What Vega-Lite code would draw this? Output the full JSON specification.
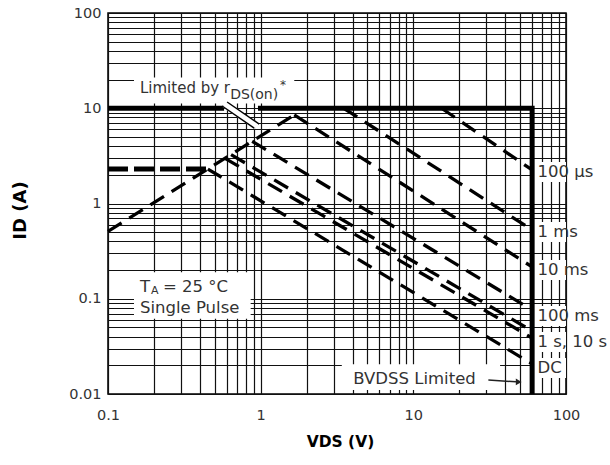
{
  "$schema": "https://vega.github.io/schema/vega-lite/v6.json",
  "width": 458,
  "height": 381,
  "autosize": "none",
  "padding": {"left": 108, "top": 13, "right": 44, "bottom": 71},
  "background": "white",
  "config": {"view": {"stroke": "#000", "strokeWidth": 1.5}, "font": "DejaVu Sans"},
  "datasets": {
    "boxes": [
      {"V": 0.148, "V2": 1.66, "I": 11.2, "I2": 21},
      {"V": 0.148, "V2": 0.86, "I": 0.0615, "I2": 0.19},
      {"V": 3.4, "V2": 37, "I": 0.011, "I2": 0.0205},
      {"V": 61.5, "V2": 100, "I": 1.68, "I2": 2.73},
      {"V": 61.5, "V2": 100, "I": 0.394, "I2": 0.639},
      {"V": 61.5, "V2": 100, "I": 0.157, "I2": 0.255},
      {"V": 61.5, "V2": 100, "I": 0.0518, "I2": 0.0839},
      {"V": 61.5, "V2": 100, "I": 0.0276, "I2": 0.0448},
      {"V": 61.5, "V2": 100, "I": 0.0147, "I2": 0.0239}
    ],
    "curves": [
      {"s": "rDS(on)", "o": 0, "V": 0.1, "I": 0.51},
      {"s": "rDS(on)", "o": 1, "V": 1.66, "I": 8.5},
      {"s": "100 µs", "o": 0, "V": 15.3, "I": 10},
      {"s": "100 µs", "o": 1, "V": 60, "I": 2.25},
      {"s": "1 ms", "o": 0, "V": 3.5, "I": 10},
      {"s": "1 ms", "o": 1, "V": 60, "I": 0.527},
      {"s": "10 ms", "o": 0, "V": 1.66, "I": 8.5},
      {"s": "10 ms", "o": 1, "V": 60, "I": 0.216},
      {"s": "100 ms", "o": 0, "V": 0.88, "I": 4.5},
      {"s": "100 ms", "o": 1, "V": 60, "I": 0.0762},
      {"s": "1 s", "o": 0, "V": 0.64, "I": 3.26},
      {"s": "1 s", "o": 1, "V": 60, "I": 0.0459},
      {"s": "10 s", "o": 0, "V": 0.584, "I": 2.98},
      {"s": "10 s", "o": 1, "V": 60, "I": 0.0387},
      {"s": "DC", "o": 0, "V": 0.451, "I": 2.3},
      {"s": "DC", "o": 1, "V": 60, "I": 0.0207}
    ],
    "idline": [
      {"o": 0, "V": 0.1, "I": 2.3},
      {"o": 1, "V": 0.451, "I": 2.3}
    ],
    "limit": [
      {"s": "a", "o": 0, "V": 0.1, "I": 10},
      {"s": "a", "o": 1, "V": 0.576, "I": 10},
      {"s": "b", "o": 0, "V": 0.96, "I": 10},
      {"s": "b", "o": 1, "V": 60, "I": 10},
      {"s": "b", "o": 2, "V": 60, "I": 0.01}
    ],
    "band": [
      {"o": 0, "V": 0.58, "I": 11.08},
      {"o": 1, "V": 0.94, "I": 6.5}
    ],
    "slash": [
      {"s": "A", "o": 0, "V": 0.603, "I": 11.63},
      {"s": "A", "o": 1, "V": 0.978, "I": 6.83},
      {"s": "B", "o": 0, "V": 0.559, "I": 10.56},
      {"s": "B", "o": 1, "V": 0.907, "I": 6.2}
    ],
    "arrow": [
      {"o": 0, "V": 31, "I": 0.014},
      {"o": 1, "V": 47, "I": 0.01345}
    ],
    "head": [
      {"V": 49, "I": 0.0134}
    ],
    "rlabels": [
      {"t": "100 µs", "V": 65, "I": 2.14},
      {"t": "1 ms", "V": 65, "I": 0.502},
      {"t": "10 ms", "V": 65, "I": 0.2},
      {"t": "100 ms", "V": 65, "I": 0.0659},
      {"t": "1 s, 10 s", "V": 65, "I": 0.0351},
      {"t": "DC", "V": 65, "I": 0.01875}
    ],
    "notes": [
      {"t": "T", "V": 0.162, "I": 0.1323},
      {"t": "= 25 °C", "V": 0.2294, "I": 0.1323},
      {"t": "Single Pulse", "V": 0.162, "I": 0.08},
      {"t": "BVDSS Limited", "V": 4.04, "I": 0.0145}
    ],
    "limited": [
      {"t": "Limited by r", "V": 0.162, "I": 16.3}
    ],
    "subs": [
      {"t": "DS(on)", "V": 0.631, "I": 13.8}
    ],
    "subA": [
      {"t": "A", "V": 0.191, "I": 0.1206}
    ],
    "star": [
      {"t": "*", "V": 1.34, "I": 17.5}
    ]
  },
  "encoding": {
    "x": {
      "field": "V",
      "type": "quantitative",
      "scale": {"type": "log", "domain": [0.1, 100], "nice": false},
      "axis": {
        "title": "VDS (V)",
        "values": [0.1, 0.2, 0.3, 0.4, 0.5, 0.6, 0.7, 0.8, 0.9, 1, 2, 3, 4, 5, 6, 7, 8, 9, 10, 20, 30, 40, 50, 60, 70, 80, 90, 100],
        "format": "~g",
        "labelExpr": "indexof([0.1, 1, 10, 100], datum.value) >= 0 ? datum.label : ''",
        "ticks": false,
        "domain": false,
        "grid": true,
        "gridColor": "#111",
        "gridWidth": 1.2,
        "labelFlush": false,
        "labelOverlap": false,
        "labelPadding": 14,
        "labelFont": "DejaVu Sans",
        "labelFontSize": 14.5,
        "labelColor": "#333",
        "titleFont": "DejaVu Sans",
        "titleFontSize": 15.5,
        "titleFontWeight": "bold",
        "titleColor": "#000",
        "titleX": 232,
        "titleY": 47,
        "titleAlign": "center",
        "titleBaseline": "middle"
      }
    },
    "y": {
      "field": "I",
      "type": "quantitative",
      "scale": {"type": "log", "domain": [0.01, 100], "nice": false},
      "axis": {
        "title": "ID (A)",
        "values": [0.01, 0.02, 0.03, 0.04, 0.05, 0.06, 0.07, 0.08, 0.09, 0.1, 0.2, 0.3, 0.4, 0.5, 0.6, 0.7, 0.8, 0.9, 1, 2, 3, 4, 5, 6, 7, 8, 9, 10, 20, 30, 40, 50, 60, 70, 80, 90, 100],
        "format": "~g",
        "labelExpr": "indexof([0.01, 0.1, 1, 10, 100], datum.value) >= 0 ? datum.label : ''",
        "ticks": false,
        "domain": false,
        "grid": true,
        "gridColor": "#111",
        "gridWidth": 1.2,
        "labelFlush": false,
        "labelOverlap": false,
        "labelPadding": 7,
        "labelFont": "DejaVu Sans",
        "labelFontSize": 14.5,
        "labelColor": "#333",
        "titleFont": "DejaVu Sans",
        "titleFontSize": 18,
        "titleFontWeight": "bold",
        "titleColor": "#000",
        "titleX": -88,
        "titleY": 197,
        "titleAlign": "center",
        "titleBaseline": "middle",
        "titleAngle": -90
      }
    }
  },
  "layer": [
    {
      "data": {"name": "boxes"},
      "mark": {"type": "rect", "fill": "white", "strokeWidth": 0},
      "encoding": {"x2": {"field": "V2"}, "y2": {"field": "I2"}}
    },
    {
      "data": {"name": "curves"},
      "mark": {"type": "line", "color": "#000", "strokeWidth": 3.3, "strokeDash": [16, 9], "strokeCap": "butt"},
      "encoding": {"detail": {"field": "s"}, "order": {"field": "o"}}
    },
    {
      "data": {"name": "idline"},
      "mark": {"type": "line", "color": "#000", "strokeWidth": 5, "strokeDash": [20, 6]},
      "encoding": {"order": {"field": "o"}}
    },
    {
      "data": {"name": "limit"},
      "mark": {"type": "line", "color": "#000", "strokeWidth": 5, "strokeJoin": "miter"},
      "encoding": {"detail": {"field": "s"}, "order": {"field": "o"}}
    },
    {
      "data": {"name": "band"},
      "mark": {"type": "line", "color": "white", "strokeWidth": 7},
      "encoding": {"order": {"field": "o"}}
    },
    {
      "data": {"name": "slash"},
      "mark": {"type": "line", "color": "#000", "strokeWidth": 1.5},
      "encoding": {"detail": {"field": "s"}, "order": {"field": "o"}}
    },
    {
      "data": {"name": "arrow"},
      "mark": {"type": "line", "color": "#222", "strokeWidth": 1.5},
      "encoding": {"order": {"field": "o"}}
    },
    {
      "data": {"name": "head"},
      "mark": {"type": "point", "shape": "triangle-right", "filled": true, "color": "#222", "size": 45, "opacity": 1}
    },
    {
      "data": {"name": "rlabels"},
      "mark": {"type": "text", "align": "left", "baseline": "middle", "fontSize": 16.5, "font": "DejaVu Sans", "color": "#333"},
      "encoding": {"text": {"field": "t"}}
    },
    {
      "data": {"name": "notes"},
      "mark": {"type": "text", "align": "left", "baseline": "middle", "fontSize": 16.5, "font": "DejaVu Sans", "color": "#333"},
      "encoding": {"text": {"field": "t"}}
    },
    {
      "data": {"name": "limited"},
      "mark": {"type": "text", "align": "left", "baseline": "middle", "fontSize": 15, "font": "DejaVu Sans", "color": "#333"},
      "encoding": {"text": {"field": "t"}}
    },
    {
      "data": {"name": "subs"},
      "mark": {"type": "text", "align": "left", "baseline": "middle", "fontSize": 14, "font": "DejaVu Sans", "color": "#333"},
      "encoding": {"text": {"field": "t"}}
    },
    {
      "data": {"name": "subA"},
      "mark": {"type": "text", "align": "left", "baseline": "middle", "fontSize": 11, "font": "DejaVu Sans", "color": "#333"},
      "encoding": {"text": {"field": "t"}}
    },
    {
      "data": {"name": "star"},
      "mark": {"type": "text", "align": "left", "baseline": "middle", "fontSize": 12, "font": "DejaVu Sans", "color": "#333"},
      "encoding": {"text": {"field": "t"}}
    }
  ]
}
